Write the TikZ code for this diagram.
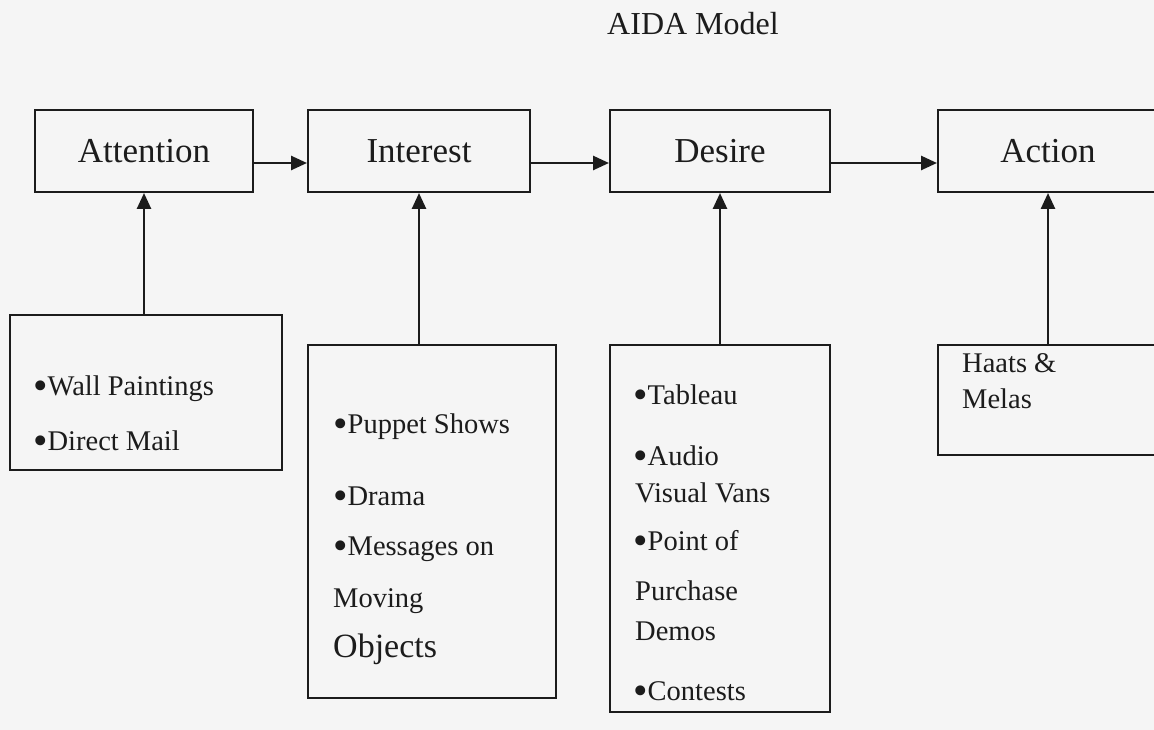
\documentclass[tikz,border=0pt]{standalone}
\usepackage{fontspec}
\usepackage{graphicx}
\setmainfont{Liberation Serif}
\usetikzlibrary{arrows.meta}
\definecolor{ink}{HTML}{1C1C1C}
\definecolor{paper}{HTML}{F5F5F5}
\newcommand{\blt}{\raisebox{-4pt}{\scalebox{1.45}{•}}}
\begin{document}
\begin{tikzpicture}[x=1pt,y=-1pt,
  box/.style={draw=ink, line width=2pt, inner sep=0pt},
  arr/.style={draw=ink, line width=2.6pt, -{Triangle[length=16pt,width=14pt]}},
  lbl/.style={text=ink, font=\fontsize{35}{40}\selectfont},
  item/.style={text=ink, anchor=base west, font=\fontsize{28.5}{32}\selectfont, inner sep=0pt}]
\fill[paper] (0,0) rectangle (1154,730);
\useasboundingbox (0,0) rectangle (1154,730);
% title
\node[text=ink, font=\fontsize{32}{36}\selectfont] (title) at (693,24) {AIDA Model};
% top boxes
\node[box, lbl, minimum width=218pt, minimum height=82pt] (att) at (144,151) {Attention};
\node[box, lbl, minimum width=222pt, minimum height=82pt] (int) at (419,151) {Interest};
\node[box, lbl, minimum width=220pt, minimum height=82pt] (des) at (720,151) {Desire};
\node[box, lbl, minimum width=220pt, minimum height=82pt] (act) at (1048,151) {Action};
% lower boxes
\node[box, minimum width=272pt, minimum height=155pt] (attlow) at (146,392) {};
\node[box, minimum width=248pt, minimum height=353pt] (intlow) at (432,521) {};
\node[box, minimum width=220pt, minimum height=367pt] (deslow) at (720,528) {};
\node[box, minimum width=222pt, minimum height=110pt] (actlow) at (1049,400) {};
% items
\node[item] (a1) at (33,395) {\blt Wall Paintings};
\node[item] (a2) at (33,450) {\blt Direct Mail};
\node[item] (i1) at (333,433) {\blt Puppet Shows};
\node[item] (i2) at (333,505) {\blt Drama};
\node[item] (i3) at (333,555) {\blt Messages on};
\node[item] (i4) at (333,607) {Moving};
\node[item, font=\fontsize{34}{38}\selectfont] (i5) at (333,657) {Objects};
\node[item] (d1) at (633,404) {\blt Tableau};
\node[item] (d2) at (633,465) {\blt Audio};
\node[item] (d3) at (635,502) {Visual Vans};
\node[item] (d4) at (633,550) {\blt Point of};
\node[item] (d5) at (635,600) {Purchase};
\node[item] (d6) at (635,640) {Demos};
\node[item] (d7) at (633,700) {\blt Contests};
\node[item] (h1) at (962,372) {Haats \&};
\node[item] (h2) at (962,408) {Melas};
% arrows
\draw[arr] ([yshift=-12pt]att.east) -- ([yshift=-12pt]int.west);
\draw[arr] ([yshift=-12pt]int.east) -- ([yshift=-12pt]des.west);
\draw[arr] ([yshift=-12pt]des.east) -- ([yshift=-12pt]act.west);
\draw[arr] (attlow.north -| att.south) -- (att.south);
\draw[arr] (intlow.north -| int.south) -- (int.south);
\draw[arr] (deslow.north -| des.south) -- (des.south);
\draw[arr] (actlow.north -| act.south) -- (act.south);
\end{tikzpicture}
\end{document}
